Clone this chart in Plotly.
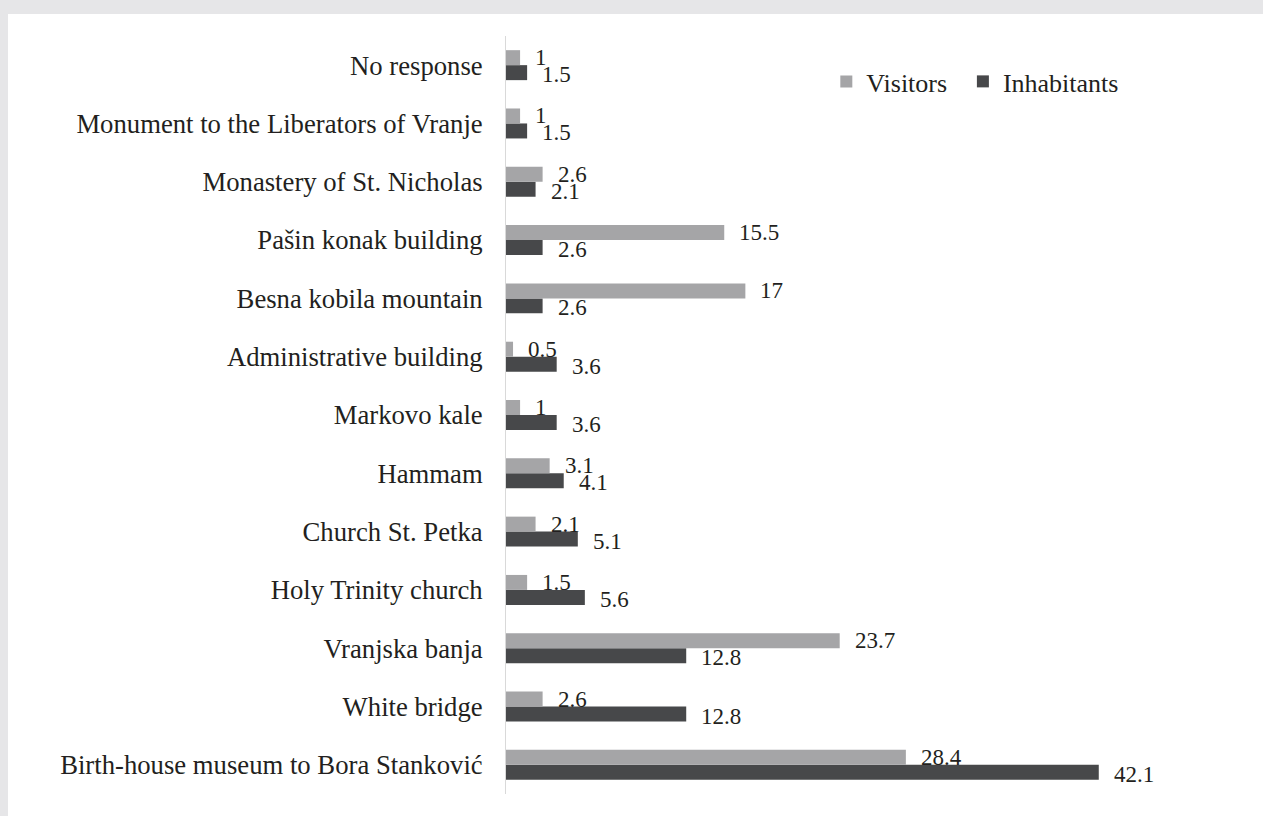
import plotly.graph_objects as go

# Data (top to bottom as shown in the chart)
categories = [
    "No response",
    "Monument to the Liberators of Vranje",
    "Monastery of St. Nicholas",
    "Pašin konak building",
    "Besna kobila mountain",
    "Administrative building",
    "Markovo kale",
    "Hammam",
    "Church St. Petka",
    "Holy Trinity church",
    "Vranjska banja",
    "White bridge",
    "Birth-house museum to Bora Stanković",
]
visitors = [1, 1, 2.6, 15.5, 17, 0.5, 1, 3.1, 2.1, 1.5, 23.7, 2.6, 28.4]
inhabitants = [1.5, 1.5, 2.1, 2.6, 2.6, 3.6, 3.6, 4.1, 5.1, 5.6, 12.8, 12.8, 42.1]

FONT = "Liberation Serif"
TXT = "#231f20"
C_VIS = "#a5a5a7"
C_INH = "#47484a"
BG = "#e6e6e8"

cats_bu = categories[::-1]

fig = go.Figure()
fig.add_trace(go.Bar(
    y=categories, x=inhabitants, orientation="h", name="Inhabitants",
    marker=dict(color=C_INH, line=dict(width=0)), legend="legend2",
))
fig.add_trace(go.Bar(
    y=categories, x=visitors, orientation="h", name="Visitors",
    marker=dict(color=C_VIS, line=dict(width=0)), legend="legend",
))

annotations = []
for c, v in zip(categories, visitors):
    annotations.append(dict(x=v, y=c, xref="x", yref="y", text=f"{v:g}",
                            showarrow=False, xanchor="left", yanchor="middle",
                            xshift=13, yshift=7.5,
                            font=dict(family="Times New Roman", size=23, color=TXT)))
for c, v in zip(categories, inhabitants):
    annotations.append(dict(x=v, y=c, xref="x", yref="y", text=f"{v:g}",
                            showarrow=False, xanchor="left", yanchor="middle",
                            xshift=13, yshift=-9.5,
                            font=dict(size=23, color=TXT)))

leg_common = dict(orientation="h", xanchor="left", y=0.94, yanchor="middle",
                  bgcolor="rgba(0,0,0,0)", itemwidth=30)

fig.update_layout(
    width=1263, height=816,
    margin=dict(l=506, r=53, t=36, b=22, pad=0),
    paper_bgcolor=BG,
    plot_bgcolor="rgba(0,0,0,0)",
    barmode="group",
    bargap=0.486,
    bargroupgap=0,
    font=dict(family=FONT, size=26.7, color=TXT),
    showlegend=True,
    legend=dict(x=0.455, font=dict(family="Liberation Serif", size=26, color=TXT), **leg_common),
    legend2=dict(x=0.649, font=dict(size=26, color=TXT), **leg_common),
    xaxis=dict(range=[0, 50], showgrid=False, zeroline=False, showline=False,
               showticklabels=False, ticks="", fixedrange=True),
    yaxis=dict(categoryorder="array", categoryarray=cats_bu, range=[-0.5, 12.5],
               showgrid=False, zeroline=False, showline=True, linecolor="#d9d9d9",
               linewidth=1, ticks="", ticklabelstandoff=17,
               tickfont=dict(family=FONT, size=26.7, color=TXT), fixedrange=True),
    shapes=[dict(type="rect", xref="paper", yref="paper",
                 x0=-0.7074, x1=1.09, y0=-0.04, y1=1.0289,
                 fillcolor="white", line=dict(width=0), layer="below")],
    annotations=annotations,
    hovermode=False,
)

fig.write_html("out.html")
